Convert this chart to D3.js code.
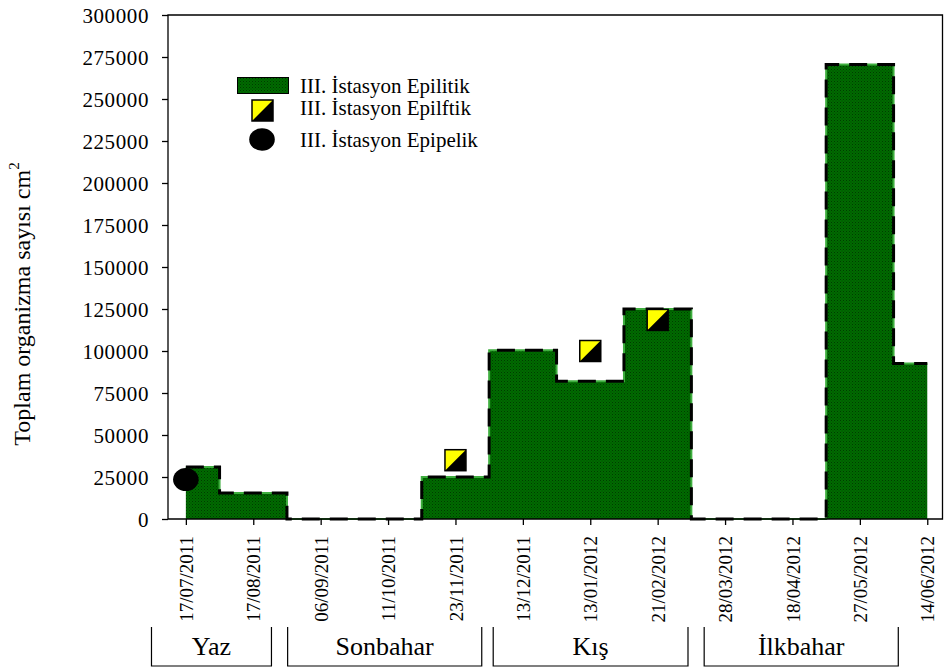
<!DOCTYPE html>
<html><head><meta charset="utf-8">
<script src="https://cdn.jsdelivr.net/npm/d3@7"></script>
<style>
html,body{margin:0;padding:0;background:#fff;}
svg text{font-family:"Liberation Serif","Times New Roman",serif;fill:#000;}
</style></head>
<body><svg id="c" width="944" height="668"></svg>
<script>
// ---- data ----
const dates = ["17/07/2011","17/08/2011","06/09/2011","11/10/2011","23/11/2011","13/12/2011","13/01/2012","21/02/2012","28/03/2012","18/04/2012","27/05/2012","14/06/2012"];
const epilitik = [31000,15500,0,0,25000,100500,82000,125000,0,0,270500,92500];
const epilftikIdx = [4,6,7];
const epilftikVal = [35000,100000,118500];
const epipelikIdx = [0];
const epipelikVal = [23500];
const yTicks = [0,25000,50000,75000,100000,125000,150000,175000,200000,225000,250000,275000,300000];
const seasons = ["Yaz","Sonbahar","Kış","İlkbahar"];
const seasonSpan = [[-0.51,1.27],[1.51,4.39],[4.56,7.45],[7.69,10.57]];
const legendLabels = ["III. İstasyon Epilitik","III. İstasyon Epilftik","III. İstasyon Epipelik"];

// ---- layout ----
const L=168, R=942.5, T=15, B=519;
const svg = d3.select("#c");
const x = d3.scaleLinear().domain([-0.265,11.226]).range([L,R]);
const y = d3.scaleLinear().domain([0,300000]).range([B,T]);

// pattern
const defs = svg.append("defs");
const pat = defs.append("pattern").attr("id","hatch").attr("patternUnits","userSpaceOnUse")
  .attr("width",3).attr("height",3);
pat.append("rect").attr("width",3).attr("height",3).attr("fill","#006b00");
pat.append("rect").attr("width",1).attr("height",1).attr("fill","#003a00");
pat.append("rect").attr("x",1.5).attr("y",1.5).attr("width",1).attr("height",1).attr("fill","#004800");

const idx = d3.range(dates.length);
const area = d3.area().curve(d3.curveStep).x(i=>x(i)).y0(y(0)).y1(i=>y(epilitik[i]));
const line = d3.line().curve(d3.curveStep).x(i=>x(i)).y(i=>y(epilitik[i]));

svg.append("path").datum(idx).attr("d",area).attr("fill","url(#hatch)");
svg.append("path").datum(idx).attr("d",line).attr("fill","none").attr("stroke","#3fae3f").attr("stroke-width",2);
svg.append("path").datum(idx).attr("d",line).attr("fill","none").attr("stroke","#000")
  .attr("stroke-width",3).attr("stroke-dasharray","18,10");

// frame
svg.append("path").attr("d",`M${L},${B}V${T}H${R}V${B}H${L}`).attr("fill","none").attr("stroke","#000").attr("stroke-width",1.3);

// y axis
const ya = svg.append("g").attr("transform",`translate(${L},0)`)
  .call(d3.axisLeft(y).tickValues(yTicks).tickSize(6).tickPadding(13).tickFormat(d3.format("d")));
ya.select(".domain").remove();
ya.selectAll("line").attr("stroke","#000").attr("stroke-width",1.3);
ya.selectAll("text").attr("font-size","21px").attr("font-family","Liberation Serif").attr("letter-spacing","0.6px").attr("dy","0.35em");

// x axis
const xa = svg.append("g").attr("transform",`translate(0,${B})`)
  .call(d3.axisBottom(x).tickValues(idx).tickSize(6).tickFormat(i=>dates[i]));
xa.select(".domain").remove();
xa.selectAll("line").attr("stroke","#000").attr("stroke-width",1.3);
xa.selectAll("text").attr("font-size","19px").attr("font-family","Liberation Serif")
  .attr("transform","rotate(-90)").attr("text-anchor","end").attr("x",-17).attr("y",0).attr("dy","0.35em");

// markers
function sqMarker(g,cx,cy,s){
  const h=s/2;
  g.append("rect").attr("x",cx-h).attr("y",cy-h).attr("width",s).attr("height",s).attr("fill","#ffff00");
  g.append("path").attr("d",`M${cx+h},${cy-h}L${cx+h},${cy+h}L${cx-h},${cy+h}Z`).attr("fill","#000");
  g.append("rect").attr("x",cx-h).attr("y",cy-h).attr("width",s).attr("height",s).attr("fill","none").attr("stroke","#000").attr("stroke-width",1.5);
}
const mg = svg.append("g");
epilftikIdx.forEach((d,k)=>sqMarker(mg,x(d),y(epilftikVal[k]),21));
epipelikIdx.forEach((d,k)=>mg.append("ellipse").attr("cx",x(d)).attr("cy",y(epipelikVal[k])).attr("rx",12.8).attr("ry",11.5).attr("fill","#000"));

// legend
const lg = svg.append("g");
lg.append("rect").attr("x",237.5).attr("y",77.5).attr("width",51).attr("height",16).attr("fill","url(#hatch)").attr("stroke","#000").attr("stroke-width",1);
sqMarker(lg,262.5,110.5,21);
lg.append("ellipse").attr("cx",262).attr("cy",139.5).attr("rx",12.8).attr("ry",11.2).attr("fill","#000");
const ly=[92.5,115,147];
legendLabels.forEach((t,k)=>lg.append("text").attr("x",300).attr("y",ly[k]).attr("font-size","21px").text(t));

// y title
svg.append("text").attr("transform","translate(30,304) rotate(-90)").attr("text-anchor","middle")
  .attr("font-size","24px").html('Toplam organizma sayısı cm<tspan dy="-11" font-size="15px">2</tspan>');

// season boxes
const sg = svg.append("g");
seasons.forEach((s,k)=>{
  const x0=x(seasonSpan[k][0]), x1=x(seasonSpan[k][1]);
  sg.append("path").attr("d",`M${x0},627V666H${x1}V627`).attr("fill","none").attr("stroke","#000").attr("stroke-width",1.2);
  sg.append("text").attr("x",(x0+x1)/2).attr("y",655).attr("text-anchor","middle").attr("font-size","26px").text(s);
});
</script></body></html>
